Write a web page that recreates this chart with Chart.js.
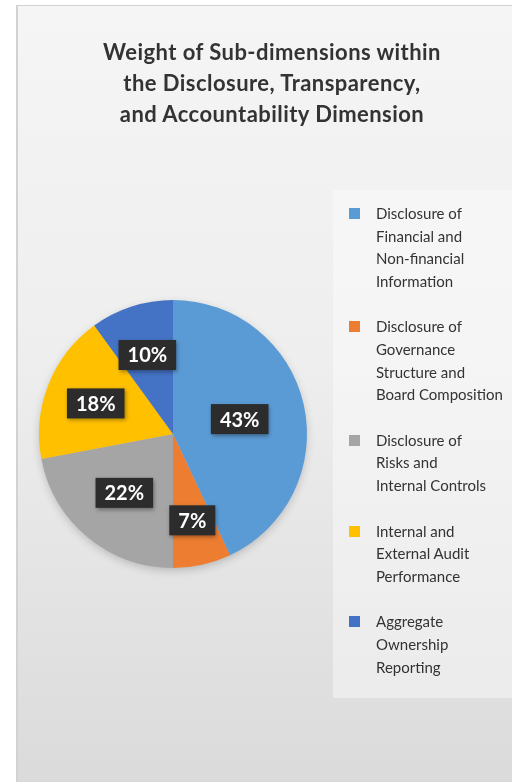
<!DOCTYPE html>
<html>
<head>
<meta charset="utf-8">
<script src="https://cdn.jsdelivr.net/npm/chart.js@4.4.1/dist/chart.umd.min.js"></script>
<style>
  html, body { margin: 0; padding: 0; width: 512px; height: 782px; overflow: hidden; background: #fff; font-family: Lato, "Open Sans", sans-serif; }
  #card {
    position: absolute; left: 16px; top: 5px; width: 510px; height: 790px;
    border: 1px solid #d2d2d2; border-left-width: 2px;
    background: linear-gradient(180deg, #f5f5f5 0%, #eeeeee 45%, #dadada 100%);
  }
  #chart { position: absolute; left: 0; top: 0; }
  #title {
    position: absolute; left: 0; top: 30px; width: 508px; text-align: center;
    font-size: 22px; font-weight: bold; line-height: 31px; letter-spacing: 0.45px; color: #333;
  }
  #legend {
    position: absolute; left: 315px; top: 184px; width: 200px; height: 508px;
    background: rgba(255, 255, 255, 0.4); box-sizing: border-box; padding-top: 12px;
  }
  #legend ul { list-style: none; margin: 0; padding: 0; }
  #legend li {
    position: relative; padding-left: 43px; margin-bottom: 23px;
    font-size: 15px; line-height: 22.6px; color: #333;
  }
  #legend li span { position: absolute; left: 16px; top: 6px; width: 11px; height: 11px; }
</style>
</head>
<body>
<div id="card">
  <canvas id="chart" width="510" height="790"></canvas>
  <div id="title"></div>
  <div id="legend"></div>
</div>
<script>
const TITLE = [
  "Weight of Sub-dimensions within",
  "the Disclosure, Transparency,",
  "and Accountability Dimension",
]
const CATEGORIES = [
  ["Disclosure of", "Financial and", "Non-financial", "Information"],
  ["Disclosure of", "Governance", "Structure and", "Board Composition"],
  ["Disclosure of", "Risks and", "Internal Controls"],
  ["Internal and", "External Audit", "Performance"],
  ["Aggregate", "Ownership", "Reporting"],
]
const WEIGHTS = [43, 7, 22, 18, 10]
const COLORS = ["#5B9BD5", "#ED7D31", "#A5A5A5", "#FFC000", "#4472C4"]

const FONT_FAMILY = "Lato, 'Open Sans', sans-serif"

document.getElementById("title").innerHTML = TITLE.join("<br>")

// soft shadow behind the whole pie
const pieShadow = {
  id: "pieShadow",
  beforeDatasetsDraw(chart) {
    const arc = chart.getDatasetMeta(0).data[0]
    if (!arc) return
    const ctx = chart.ctx
    ctx.save()
    ctx.shadowColor = "rgba(0, 0, 0, 0.22)"
    ctx.shadowBlur = 10
    ctx.shadowOffsetY = 3
    ctx.fillStyle = "#bbbbbb"
    ctx.beginPath()
    ctx.arc(arc.x, arc.y, arc.outerRadius - 1, 0, Math.PI * 2)
    ctx.fill()
    ctx.restore()
  },
}

// dark boxed percentage labels
const boxLabels = {
  id: "boxLabels",
  afterDatasetsDraw(chart, args, opts) {
    const ctx = chart.ctx
    const meta = chart.getDatasetMeta(0)
    const data = chart.data.datasets[0].data
    const total = data.reduce((a, b) => a + b, 0)
    ctx.save()
    ctx.font = `bold ${opts.size}px ${FONT_FAMILY}`
    ctx.textAlign = "center"
    ctx.textBaseline = "middle"
    meta.data.forEach((arc, i) => {
      const mid = (arc.startAngle + arc.endAngle) / 2
      const r = arc.outerRadius * (opts.radius[i] ?? 0.6)
      const x = arc.x + Math.cos(mid) * r
      const y = arc.y + Math.sin(mid) * r
      const text = Math.round((data[i] / total) * 100) + "%"
      const w = ctx.measureText(text).width + opts.padX * 2
      const h = opts.boxH
      ctx.shadowColor = "rgba(0, 0, 0, 0.35)"
      ctx.shadowBlur = 4
      ctx.shadowOffsetX = 1
      ctx.shadowOffsetY = 2
      ctx.fillStyle = "#2c2c2c"
      ctx.fillRect(x - w / 2, y - h / 2, w, h)
      ctx.shadowColor = "transparent"
      ctx.fillStyle = "#ffffff"
      ctx.fillText(text, x, y + 1)
    })
    ctx.restore()
  },
}

// html legend with multi-line labels
const htmlLegend = {
  id: "htmlLegend",
  afterUpdate(chart) {
    const items = chart.options.plugins.legend.labels.generateLabels(chart)
    const ul = document.createElement("ul")
    items.forEach((item) => {
      const li = document.createElement("li")
      const box = document.createElement("span")
      box.style.background = item.fillStyle
      li.appendChild(box)
      const lines = Array.isArray(item.text) ? item.text : [item.text]
      li.insertAdjacentHTML("beforeend", lines.join("<br>"))
      ul.appendChild(li)
    })
    const el = document.getElementById("legend")
    el.innerHTML = ""
    el.appendChild(ul)
  },
}

new Chart(document.getElementById("chart"), {
  type: "pie",
  data: {
    labels: CATEGORIES,
    datasets: [
      {
        data: WEIGHTS,
        backgroundColor: COLORS,
        borderWidth: 0,
      },
    ],
  },
  options: {
    responsive: false,
    animation: false,
    layout: { padding: { left: 21, right: 221, top: 294, bottom: 228 } },
    plugins: {
      legend: { display: false },
      tooltip: { enabled: false },
      title: { display: false },
      boxLabels: { size: 20, padX: 9, boxH: 30, radius: [0.51, 0.66, 0.57, 0.62, 0.62] },
    },
  },
  plugins: [pieShadow, boxLabels, htmlLegend],
})
</script>
</body>
</html>
